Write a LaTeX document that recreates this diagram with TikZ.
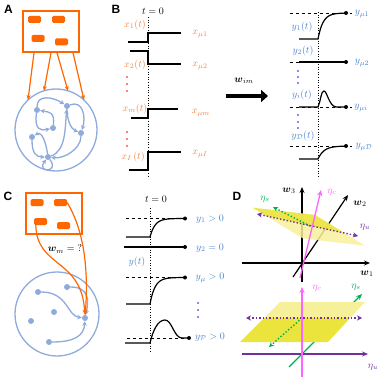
\documentclass[tikz,border=0pt]{standalone}
\usepackage{fontspec}
\usepackage{amsmath,amssymb}
\usetikzlibrary{arrows.meta,positioning}
\newfontfamily\panelfont{Liberation Sans}
\definecolor{stimorange}{RGB}{255,102,0}
\definecolor{xorange}{RGB}{240,130,60}
\definecolor{netblue}{RGB}{143,170,220}
\definecolor{yblue}{RGB}{70,130,200}
\definecolor{dotblue}{RGB}{20,20,220}
\definecolor{etamag}{RGB}{255,100,255}
\definecolor{etagreen}{RGB}{0,176,80}
\definecolor{etapurple}{RGB}{112,48,160}
\definecolor{planedark}{RGB}{235,228,60}
\definecolor{planelight}{RGB}{247,240,155}

\begin{document}
\begin{tikzpicture}[x=1pt, y=-1pt, >=Stealth,
    panel/.style={font=\panelfont\bfseries\fontsize{12}{12}\selectfont},
    stimbox/.style={draw=stimorange, line width=1.5pt, minimum width=56pt, minimum height=41pt, inner sep=0pt},
    blob/.style={fill=stimorange, rounded corners=1.5pt, minimum width=13pt, minimum height=7pt, inner sep=0pt},
    netcircle/.style={circle, draw=netblue, line width=1.3pt, inner sep=0pt},
    neuron/.style={circle, fill=netblue, minimum size=6pt, inner sep=0pt},
    link/.style={netblue, line width=1.3pt, -{Stealth[length=4.5pt,width=4.5pt]}},
    drive/.style={stimorange, line width=1.2pt, -{Stealth[length=5pt,width=4pt]}},
    sig/.style={line width=1.2pt},
    tzero/.style={dotted, line width=0.6pt},
    refline/.style={dashed, line width=0.6pt},
    xlab/.style={text=xorange, inner sep=0pt},
    ylab/.style={text=yblue, inner sep=0pt},
    enddot/.style={circle, fill=black, minimum size=4pt, inner sep=0pt},
    axis/.style={line width=1.2pt, -{Stealth[length=6pt,width=5pt]}},
    ]
\useasboundingbox (0,0) rectangle (382,382);

% ---------------- A ----------------
\node[panel] (labA) at (8.5,9) {A};
\node[stimbox] (stimA) at (51,31.5) {};
\node[blob] (bA1) at (34.5,19.5) {};
\node[blob] (bA2) at (58.5,19.5) {};
\node[blob] (bA3) at (38,38.5) {};
\node[blob] (bA4) at (61.5,42) {};
\node[netcircle, minimum size=82pt] (netA) at (56,130) {};
\coordinate (inA1) at (28,100);
\coordinate (inA2) at (44,91);
\coordinate (inA3) at (68,91);
\coordinate (inA4) at (84,100);
\draw[drive] ([xshift=-17pt]stimA.south) -- (inA1);
\draw[drive] (stimA.south) -- (inA2);
\draw[drive] ([xshift=6pt]stimA.south) -- (inA3);
\draw[drive] ([xshift=22pt]stimA.south) -- (inA4);

% network
\node[neuron] (a1) at (37,110) {};
\node[neuron] (a2) at (67,106) {};
\node[neuron] (a3) at (53,128) {};
\node[neuron] (a4) at (32,137) {};
\node[neuron] (a5) at (81,133) {};
\node[neuron] (a6) at (48,157) {};
\draw[link] (a1) .. controls +(0,-16) and +(-14,-9) .. (a2);
\draw[link] (a2) .. controls +(16,-6) and +(5,-16) .. (a5);
\draw[link] (a2) .. controls +(0,14) and +(-10,-4) .. (a5);
\draw[link] (a1) .. controls +(-3,20) and +(-12,3) .. (a3);
\draw[link] (a3) .. controls +(2,-16) and +(12,2) .. (a1);
\draw[link] (a6) .. controls +(18,-6) and +(-2,22) .. (a2);
\draw[link] (a5) .. controls +(0,16) and +(16,2) .. (a6);
\draw[link] (a4) .. controls +(0,16) and +(-12,0) .. (a6);
\draw[link] (a6) .. controls +(-2,-14) and +(10,-6) .. (a4);
\draw[link] (a6) .. controls +(12,16) and +(-12,16) .. (a6);

% ---------------- B ----------------
\node[panel] (labB) at (116,9) {B};
\node (tzB) at (153,11) {$t=0$};
\draw[tzero] (148,17) -- (148,177);
% inputs
\draw[sig] (128,42) -- (148,42) -- (148,33) -- (181,33);
\draw[sig] (130,51) -- (148,51) -- (148,64) -- (181,64);
\draw[sig] (131,118) -- (148,118) -- (148,109) -- (178,109);
\draw[sig] (129,170) -- (148,170) -- (148,152) -- (181,152);
\node[xlab] (lx1) at (135,25) {$x_1(t)$};
\node[xlab] (lx2) at (135,65) {$x_2(t)$};
\node[xlab] (lxm) at (135,109) {$x_m(t)$};
\node[xlab] (lxI) at (133,157) {$x_I\,(t)$};
\node[xlab] (lmu1) at (200,34) {$x_{\mu 1}$};
\node[xlab] (lmu2) at (200,66) {$x_{\mu 2}$};
\node[xlab] (lmum) at (201,113) {$x_{\mu m}$};
\node[xlab] (lmuI) at (200,154) {$x_{\mu I}$};
\foreach \yy in {77,84,91,132,139,146}
  \fill[red] (127,\yy) circle (0.9pt);

% mapping arrow
\coordinate (mapL) at (226,96);
\coordinate (mapR) at (268,96);
\draw[line width=4.5pt, -{Triangle[length=7pt,width=12pt]}] (mapL) -- (mapR);
\node (wim) at (244,81) {$\boldsymbol{w}_{im}$};

% outputs
\draw[tzero] (318,12) -- (318,176);
\draw[refline] (290,13) -- (352,13);
\draw[sig] (299,39) -- (318,39) -- plot[domain=318:346, samples=40] (\x,{39-26*(1-exp(-(\x-318)/5))});
\node[enddot] (e1) at (346,13) {};
\draw[refline] (290,62) -- (299,62);
\draw[sig] (299,62) -- (346,62);
\node[enddot] (e2) at (346,62) {};
\draw[refline] (290,107) -- (352,107);
\draw[sig] (299,107) -- (318,107) .. controls (321,100) and (321,91) .. (324,91)
   .. controls (327,91) and (329,106) .. (336,107) -- (346,107);
\node[enddot] (ei) at (346,107) {};
\draw[refline] (290,146) -- (352,146);
\draw[sig] (299,159) -- (318,159) -- plot[domain=318:346, samples=40] (\x,{159-13*(1-exp(-(\x-318)/6))});
\node[enddot] (eD) at (346,146) {};
\node[ylab] (ly1) at (302,27) {$y_1(t)$};
\node[ylab] (ly2) at (303,51) {$y_2(t)$};
\node[ylab] (lyi) at (302,95) {$y_i(t)$};
\node[ylab] (lyD) at (303,136) {$y_{\mathcal{D}}(t)$};
\node[ylab] (lymu1) at (362,14) {$y_{\mu 1}$};
\node[ylab] (lymu2) at (362,63) {$y_{\mu 2}$};
\node[ylab] (lymui) at (361,108) {$y_{\mu i}$};
\node[ylab] (lymuD) at (364,147) {$y_{\mu\mathcal{D}}$};
\foreach \yy in {71,77,83,115,122,128}
  \fill[dotblue] (298,\yy) circle (0.9pt);

% ---------------- C ----------------
\node[panel] (labC) at (8,196) {C};
\node[stimbox] (stimC) at (54,213.5) {};
\node[blob] (bC1) at (37,202.5) {};
\node[blob] (bC2) at (60.5,202.5) {};
\node[blob] (bC3) at (40.5,221.5) {};
\node[blob] (bC4) at (63.5,225.5) {};
\node (wm) at (65,249) {$\boldsymbol{w}_m = {?}$};
\node[netcircle, minimum size=84pt] (netC) at (57,314) {};
\node[neuron] (c1) at (38,292) {};
\node[neuron] (c2) at (67,287) {};
\node[neuron] (c3) at (54,312) {};
\node[neuron] (c4) at (31,321) {};
\node[neuron] (c5) at (49,342) {};
\node[neuron] (ct) at (85,318) {};
\draw[link] (c1) .. controls +(30,0) and +(-18,-2) .. (ct);
\draw[link] (c2) .. controls +(22,0) and +(4,-18) .. (ct);
\draw[link] (c5) .. controls +(25,0) and +(-1,18) .. (ct);
\draw[drive] ([xshift=2pt]bC3.south west) .. controls +(1,43) and +(-3,-60) .. (ct);
\draw[drive] (bC2.east) .. controls +(15,25) and +(4,-55) .. (ct);

% responses
\node (tzC) at (156,199) {$t=0$};
\draw[tzero] (150,208) -- (150,352);
\draw[refline] (126,218.5) -- (185,218.5);
\draw[sig] (126,237) -- (150,237) -- plot[domain=150:185, samples=40] (\x,{237-18.5*(1-exp(-(\x-150)/5))});
\node[enddot] (f1) at (185,218.5) {};
\draw[sig] (124,247) -- (185,247);
\node[enddot] (f2) at (185,247) {};
\draw[refline] (126,277) -- (185,277);
\draw[sig] (126,304) -- (150,304) -- plot[domain=150:185, samples=40] (\x,{304-26.5*(1-exp(-(\x-150)/5))});
\node[enddot] (fmu) at (185,277.5) {};
\draw[refline] (127,338) -- (189,338);
\draw[sig] (125,343) -- (150,343) .. controls (153,330) and (158,320) .. (165,320)
   .. controls (172,320) and (174,338) .. (182,338) -- (189,338);
\node[enddot] (fP) at (189,338) {};
\node[ylab] (ly) at (137,262) {$y(t)$};
\node[ylab] (lc1) at (210,219) {$y_1 > 0$};
\node[ylab] (lc2) at (210,248) {$y_2 = 0$};
\node[ylab] (lcmu) at (210,278) {$y_\mu > 0$};
\node[ylab] (lcP) at (210,337) {$y_{\mathcal{P}} > 0$};
\foreach \yy in {303,310,317}
  \fill[dotblue] (198,\yy) circle (0.9pt);

% ---------------- D ----------------
\node[panel] (labD) at (237,196) {D};
% top: w space
\coordinate (o1) at (302,263);
\draw[axis] (242,263) -- (370,263);
\draw[axis] (302,282) -- (302,187);
\draw[axis] (293,277) -- (348,195);
\fill[planelight, fill opacity=0.85] (252.7,207.7) -- (315,215) -- (365,245.7) -- (302.7,238.3) -- cycle;
\fill[planedark, fill opacity=0.85] (252.7,207.7) -- (315,215) -- (344.4,233) -- (266.5,216.1) -- cycle;
\draw[etamag, line width=1.3pt, -{Stealth[length=6pt,width=5pt]}] (300,278) -- (321,190);
\draw[etagreen, dotted, line width=1.4pt, -{Stealth[length=5pt,width=5pt]}] (310,226) -- (273,207);
\draw[etapurple, dotted, line width=1.4pt, {Stealth[length=5pt,width=5pt]}-{Stealth[length=5pt,width=5pt]}] (257,214) -- (358,236);
\node (lw3) at (289,191) {$\boldsymbol{w}_3$};
\node (lw2) at (360,204) {$\boldsymbol{w}_2$};
\node (lw1) at (367,274) {$\boldsymbol{w}_1$};
\node[text=etamag] (lec1) at (332,192) {$\eta_c$};
\node[text=etagreen] (les1) at (265,199) {$\eta_s$};
\node[text=etapurple] (leu1) at (365,227) {$\eta_u$};
% bottom: eta space
\draw[etagreen, line width=1.3pt, -{Stealth[length=6pt,width=5pt]}] (289,367) -- (362,294);
\draw[etapurple, line width=1.3pt, -{Stealth[length=6pt,width=5pt]}] (242,354) -- (368,354);
\fill[planelight] (280,302) -- (365,302) -- (350.2,318) -- (264,318) -- cycle;
\fill[planedark] (264,318) -- (350.2,318) -- (328,342) -- (240,342) -- cycle;
\draw[etagreen, dotted, line width=1.4pt, -{Stealth[length=5pt,width=5pt]}] (302,318) -- (269,347);
\draw[etapurple, dotted, line width=1.4pt, {Stealth[length=5pt,width=5pt]}-{Stealth[length=5pt,width=5pt]}] (246,318) -- (362,318);
\draw[etamag, line width=1.3pt, -{Stealth[length=6pt,width=5pt]}] (302,377) -- (302,287);
\node[text=etamag] (lec2) at (317,288) {$\eta_c$};
\node[text=etagreen] (les2) at (356,287) {$\eta_s$};
\node[text=etapurple] (leu2) at (373,367) {$\eta_u$};
\end{tikzpicture}
\end{document}
